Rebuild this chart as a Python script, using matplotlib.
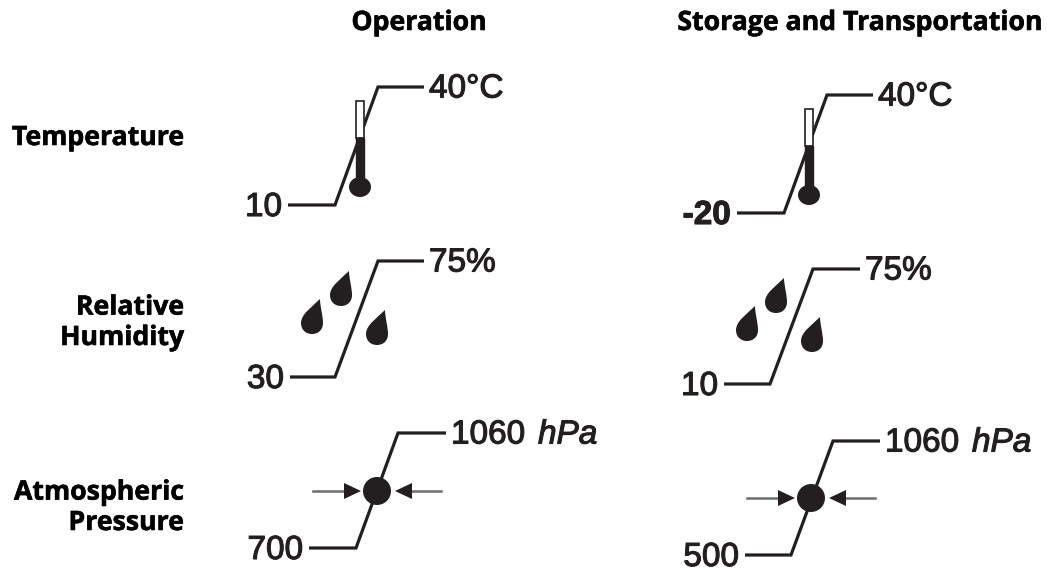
import matplotlib
matplotlib.use('Agg')
import matplotlib.pyplot as plt
import matplotlib.patheffects as pe
from matplotlib.path import Path
from matplotlib.patches import PathPatch, Rectangle, Ellipse, Polygon

columns = ['Operation', 'Storage and Transportation']
rows = ['Temperature', 'Relative\nHumidity', 'Atmospheric\nPressure']
low_labels = [['10', '30', '700'], ['-20', '10', '500']]
high_labels = [['40°C', '75%', '1060'], ['40°C', '75%', '1060']]
unit = 'hPa'

INK = '#231f20'
SANS = ['Liberation Sans', 'DejaVu Sans']
HEAD = ['Open Sans', 'DejaVu Sans']

# where each column header and row title sits (baselines)
column_x = [419, 860]
row_y = [145, 345, 530]
# step line corners of each symbol: x0, x1, x2, x3, y_low, y_high
steps = [
    [(288, 335, 378, 424, 205, 87), (290, 335, 378, 424, 377, 261), (309, 356, 398, 446, 548, 433)],
    [(737, 784, 827, 873, 213, 95), (724, 770, 813, 860, 384, 269), (745, 791, 833, 880, 555, 441)],
]

fig = plt.figure(figsize=(10.47, 5.73), dpi=100)
ax = fig.add_axes([0, 0, 1, 1])
ax.set_xlim(0, 1047)
ax.set_ylim(573, 0)
ax.axis('off')

head_fx = [pe.withStroke(linewidth=0.4, foreground='black')]


def label(x, y, s, ha='left', size=24, **kw):
    # the scan has a medium weight, regular plus a thin stroke gets near it
    ax.text(x, y, s, ha=ha, va='center', fontsize=size, family=SANS, color=INK,
            path_effects=[pe.withStroke(linewidth=0.8, foreground=INK)], **kw)


def step_line(c):
    x0, x1, x2, x3, yl, yh = c
    ax.plot([x0, x1, x2, x3], [yl, yl, yh, yh], color=INK, lw=2.3,
            solid_joinstyle='miter', solid_capstyle='butt', zorder=2)


def thermometer(x, top):
    ax.add_patch(Rectangle((x - 4, top), 8, 37, fc='white', ec=INK, lw=1.2, zorder=3))
    ax.add_patch(Rectangle((x - 4, top + 37), 8, 50, fc=INK, ec=INK, lw=1.0, zorder=3))
    ax.add_patch(Ellipse((x, top + 86), 22, 20, fc=INK, ec='none', zorder=3))


def drop(cx, bottom):
    verts = [(cx + 8, bottom - 35),
             (cx + 8, bottom - 28), (cx + 11, bottom - 18), (cx + 11, bottom - 11),
             (cx + 11, bottom - 4), (cx + 6, bottom), (cx, bottom),
             (cx - 6, bottom), (cx - 11, bottom - 4), (cx - 11, bottom - 11),
             (cx - 11, bottom - 20), (cx, bottom - 27), (cx + 8, bottom - 35)]
    codes = [Path.MOVETO] + [Path.CURVE4] * 12
    ax.add_patch(PathPatch(Path(verts, codes), fc=INK, ec='none', zorder=3))


def gauge(cx, cy):
    ax.add_patch(Ellipse((cx, cy), 28, 28, fc=INK, ec='none', zorder=3))
    ax.plot([cx - 64, cx - 33], [cy, cy], color='#6d6d6d', lw=1.8, zorder=2)
    ax.plot([cx + 35, cx + 64], [cy, cy], color='#6d6d6d', lw=1.8, zorder=2)
    ax.add_patch(Polygon([(cx - 33, cy - 8), (cx - 33, cy + 8), (cx - 16, cy)], fc=INK, ec='none', zorder=3))
    ax.add_patch(Polygon([(cx + 35, cy - 8), (cx + 35, cy + 8), (cx + 18, cy)], fc=INK, ec='none', zorder=3))


for x, name in zip(column_x, columns):
    ax.text(x, 30, name, ha='center', va='baseline', fontsize=19.2, fontweight='bold', family=HEAD,
            color='black', path_effects=head_fx)

for y, name in zip(row_y, rows):
    ax.text(184, y, name, ha='right', va='baseline', fontsize=19.2, fontweight='bold', family=HEAD,
            color='black', linespacing=1.22, path_effects=head_fx)

for col in range(2):
    for row in range(3):
        c = steps[col][row]
        step_line(c)
        s = low_labels[col][row]
        label(c[0] - 6, c[4] + 2.5, s, ha='right', fontweight='bold' if s.startswith('-') else 'normal')
        label(c[3] + 5, c[5] + 2, high_labels[col][row])
        if row == 2:
            # unit is italic, placed behind the number
            ax.text(c[3] + 92, c[5] + 2, unit, ha='left', va='center', fontsize=24, style='italic',
                    family=SANS, color=INK, path_effects=[pe.withStroke(linewidth=0.8, foreground=INK)])

thermometer(360, 101)
thermometer(809, 109)
for dx, dy in [(0, 0), (435, 7)]:
    drop(312 + dx, 334 + dy)
    drop(341 + dx, 306 + dy)
    drop(377 + dx, 345 + dy)
gauge(377, 491)
gauge(811, 498)

fig.savefig('out.png', dpi=100)
